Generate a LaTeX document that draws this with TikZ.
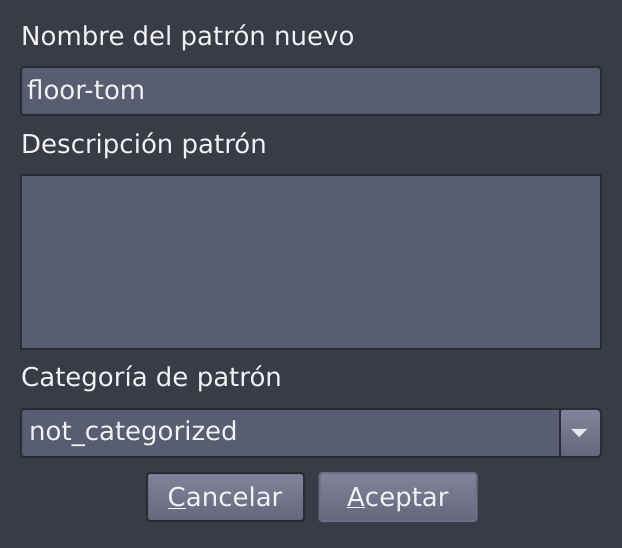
\documentclass[tikz,border=0pt]{standalone}
\usepackage{fontspec}
\setmainfont{DejaVu Sans}
\definecolor{bgdark}{HTML}{393C47}
\definecolor{fieldgray}{HTML}{595D71}
\definecolor{edgedark}{HTML}{2A2C34}
\definecolor{btntop}{HTML}{81849A}
\definecolor{btnbot}{HTML}{63677C}
\definecolor{btnedge}{HTML}{6C7086}
\definecolor{txtwhite}{HTML}{F2F2F2}

\begin{document}
\begin{tikzpicture}
 [x=1pt, y=-1pt,
  every node/.style={font=\fontsize{26}{30}\selectfont, text=txtwhite},
  lbl/.style={anchor=base west, inner sep=0pt},
  field/.style={draw=edgedark, line width=2pt, fill=fieldgray, rounded corners=3pt},
  btn/.style={draw=edgedark, line width=2pt, rounded corners=3pt,
    top color=btntop, bottom color=btnbot,
    minimum width=157pt, minimum height=48pt, inner sep=0pt}]

  \fill[bgdark] (0,0) rectangle (622,548);
  \useasboundingbox (0,0) rectangle (622,548);

  % name
  \node[lbl] (namelbl) at (21,46) {Nombre del patrón nuevo};
  \draw[field] (21,67) rectangle (601,115);
  \node[lbl] (nameval) at (27,100) {floor-tom};

  % description
  \node[lbl] (desclbl) at (21,154) {Descripción patrón};
  \draw[field, rounded corners=0pt] (21,175) rectangle (601,349);

  % category
  \node[lbl] (catlbl) at (21,387) {Categoría de patrón};
  \draw[field] (21,409) rectangle (601,457);
  \node[lbl] (catval) at (29,441) {not\_categorized};
  \fill[top color=btntop, bottom color=btnbot, rounded corners=3pt]
    (560,410) rectangle (600,456);
  \draw[edgedark, line width=1.5pt] (560,410) -- (560,456);
  \fill[white!80!btntop] (571,429) -- (587,429) -- (579,437) -- cycle;

  % buttons
  \node[btn] (cancel) at (225.5,497) {};
  \node[lbl] (canceltxt) at ([xshift=-58pt,yshift=-9pt]cancel.center) {\underline{C}ancelar};
  \node[btn, draw=btnedge] (accept) at (398,497) {};
  \node[lbl] (accepttxt) at ([xshift=-51pt,yshift=-9pt]accept.center) {\underline{A}ceptar};
\end{tikzpicture}
\end{document}
